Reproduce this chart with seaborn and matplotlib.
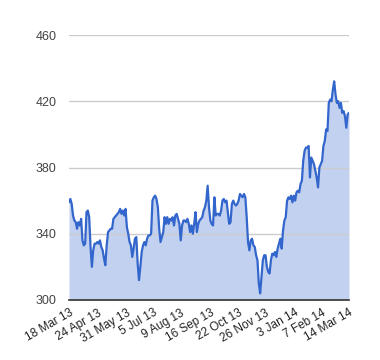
import matplotlib
matplotlib.use("Agg")
import matplotlib.pyplot as plt
import pandas as pd
import seaborn as sns

# daily closes, 18 Mar 13 .. 14 Mar 14
prices = [
    359, 361, 358, 351, 348, 347, 343, 347, 345, 349, 336, 333, 334, 353, 354, 350,
    332, 320, 330, 334, 334, 335, 334, 336, 332, 330, 325, 321,
    333, 341, 342, 343, 343, 349, 350, 351, 352, 353, 355, 352, 354, 351, 355, 344,
    340, 335, 333, 326, 331, 337, 338, 322, 312, 320, 329, 333, 335,
    333, 337, 339, 339, 340, 360, 362, 363, 361, 356, 343, 335, 338, 341, 350, 346,
    350, 346, 349, 348, 350, 345, 351, 352, 349, 346, 336, 345, 348,
    348, 347, 349, 346, 341, 345, 340, 346, 353, 341, 346, 348, 349, 350, 354, 356,
    360, 369, 356, 348, 346, 345, 362, 351, 352, 352, 351, 354, 360, 361,
    359, 360, 353, 346, 347, 358, 360, 358, 357, 358, 360, 364, 363, 362, 364, 362,
    350, 335, 330, 336, 337, 333, 332, 327, 324, 310, 304, 314, 324, 327, 327,
    320, 317, 316, 324, 328, 327, 329, 326, 331, 334, 337, 331, 342, 348, 350, 360,
    362, 361, 363, 359, 363, 360, 365, 366, 365, 370, 372, 384, 390, 392,
    392, 393, 374, 386, 384, 382, 378, 374, 368, 380, 382, 384, 393, 396, 403, 402,
    419, 421, 420, 427, 432, 424, 419, 420, 416, 419, 413, 414, 411, 404, 412, 413,
]

tick_dates = ["2013-03-18", "2013-04-24", "2013-05-31", "2013-07-05", "2013-08-09",
              "2013-09-16", "2013-10-22", "2013-11-26", "2014-01-03", "2014-02-07",
              "2014-03-14"]
tick_labels = ["18 Mar 13", "24 Apr 13", "31 May 13", "5 Jul 13", "9 Aug 13",
               "16 Sep 13", "22 Oct 13", "26 Nov 13", "3 Jan 14", "7 Feb 14",
               "14 Mar 14"]
y_ticks = [300, 340, 380, 420, 460]

df = pd.DataFrame({
    "Date": pd.date_range("2013-03-18", "2014-03-14", periods=len(prices)),
    "Price": prices,
})

sns.set_theme(style="white")
plt.rcParams["font.family"] = ["Liberation Sans", "DejaVu Sans"]

fig = plt.figure(figsize=(3.8, 3.6), dpi=100)
ax = fig.add_axes([69 / 380, 60 / 360, 280 / 380, 265 / 360])

ax.fill_between(df["Date"], 300, df["Price"], color="#c2d1f0", lw=0)
sns.lineplot(data=df, x="Date", y="Price", ax=ax, color="#3366cc", lw=1.6)

ax.set_ylim(y_ticks[0], y_ticks[-1])
ax.set_yticks(y_ticks)
ax.set_xlim(df["Date"].iloc[0], df["Date"].iloc[-1])
ax.set_xticks(pd.to_datetime(tick_dates))
ax.set_xticklabels(tick_labels, rotation=30, ha="right", rotation_mode="anchor")

ax.set_axisbelow("line")
ax.grid(axis="y", color="#cccccc", lw=1)
ax.grid(axis="x", visible=False)
for side in ["left", "right", "top"]:
    ax.spines[side].set_visible(False)
ax.spines["bottom"].set_color("#333333")
ax.spines["bottom"].set_linewidth(1.2)

ax.tick_params(axis="y", length=0, pad=9, labelsize=9, labelcolor="#444444")
ax.tick_params(axis="x", length=0, pad=5, labelsize=8.5, labelcolor="#222222")
ax.set_xlabel("")
ax.set_ylabel("")

fig.savefig("out.png", dpi=100)
